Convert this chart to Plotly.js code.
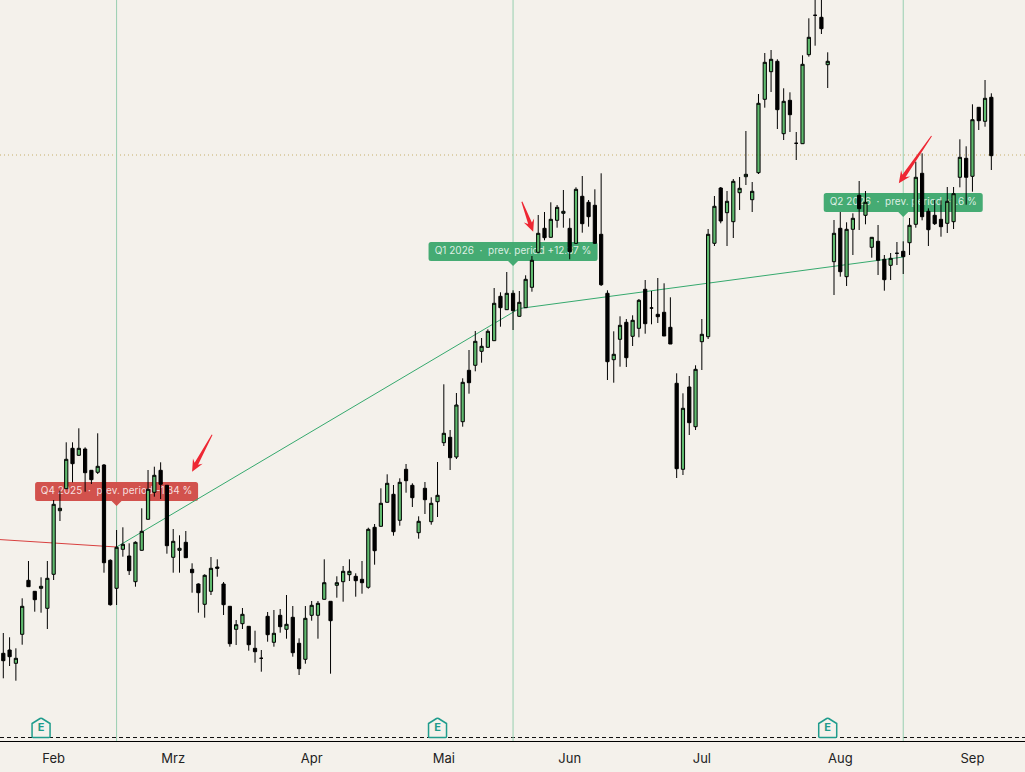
<!DOCTYPE html>
<html>
<head>
<meta charset="utf-8">
<script src="https://cdn.plot.ly/plotly-3.0.1.min.js"></script>
<style>
  html, body { margin: 0; padding: 0; background: #F4F1EB; }
  #chart { width: 1025px; height: 772px; }
</style>
</head>
<body>
<div id="chart"></div>
<script>
// Daily candles, prices are on an arbitrary scale (no price axis is visible).
const open = [87.7,91,77.7,106.7,160.7,149.7,152.7,132.7,166.7,230.3,252.3,292.7,285.7,292,270.7,268.7,276,180.7,152.7,191.7,
  185,159.3,190.7,221.7,248.7,270.7,255.7,183.7,190.7,198.7,171.7,157,136.7,149.7,174,157,134.7,111.7,117.3,114.7,
  92.7,82.7,124.7,98.7,125.7,111.7,123.7,97.7,81.7,125.7,125.7,141.7,139.7,155.7,159.3,166.3,164.7,161.7,153.7,213.7,
  214.7,238.7,246.7,220.7,271.7,255.7,208.3,252.7,219.3,239.3,298.3,303.7,284,319.3,370.7,375.7,389.7,393.7,400.3,444.7,
  431.3,447.7,424.7,433.3,453.7,488.7,512.7,503.7,520.7,527.7,512.7,497.7,544.7,538.7,535.7,506.7,447.7,381.3,401.7,418.7,
  404.7,412.7,451.7,433,426.7,428.7,413.7,357.7,271.7,354,314.3,399.3,404.3,497.7,553,528.3,519.3,548.3,564.3,541.3,
  568.3,641.7,669.3,679.7,607.3,640.7,597.7,597.3,686.3,725.7,723.7,676.3,479.3,512.7,464.3,511.7,545.7,525.7,493.7,499.7,
  481.7,475.7,487.7,489.7,498.3,516.7,567.7,529.7,525.7,521.7,517.7,519.3,563.7,582.7,564.7,633.7,619.7,643.7];
const high = [108,103.7,92.7,142.7,180,150,163.7,180,241,250.3,298.7,298.7,312.7,293.7,271,307.7,277,181.7,211,213.7,
  197.7,199.7,232.7,271,274.3,278.7,255.7,212,205.7,210,177.7,157.7,166.7,184,181.7,159,135,121,133,114.7,
  110.3,91,129,131,132,146,135,102.7,135,140,140,181.7,139.7,164.7,175,181.7,167.7,180,213.3,217,
  252.7,266.7,256,262.7,277,257.7,224.7,259,243.7,279,356.7,311,348,362.7,391,410,403,411.7,453,448.7,
  469,450.7,450,465.7,485,526,529,538.7,536,551,522.7,553.7,565,541,551.7,567.7,450.7,409.7,424.7,422,
  425.7,442,461,450,463,457.7,443.7,367.7,347.7,365,375.7,422,512,545,554,550,562,564,610,559,
  647,688,691,681.7,652.7,648.7,609,685.7,722.7,746,746,688.7,521,529,518.7,527.7,560,550,504,516,
  486,488,499,499.7,523,579.3,587.7,532.7,541,540.7,554,554,601.7,594.7,636.7,634,661,647.7];
const low = [62.7,75,60.3,96.3,154.3,129.3,128.3,112,161,220,252,258.7,285.3,249.3,257,267,168.3,135.3,136,184.3,
  166,154.3,190.3,221.5,244.3,242,187.3,168.3,168.3,183.3,148.3,128.3,123.3,146,164.3,126,94.3,96,112,90.3,
  78.3,69.3,99.3,94.3,108.3,102.3,84.3,66,77.3,120.3,102.3,141.3,67.3,143.3,139.3,160,144.3,147.3,152.3,176.3,
  214.3,238.5,205.3,215.3,248.3,234,202.3,227,216.3,224,295,271,282,314.3,347.3,369.7,378.3,393.3,400,414.3,
  431,411,424,433,449.3,488.5,500.7,503.3,513.3,513.3,481.7,497,508.3,514.3,497,455,361,358.3,374.3,374,
  395,403.7,407.3,416.7,418,405,397,263,266,306,311,371,402,495,517.7,495,503,531,556,529,
  567,633.3,649,612,601,609,581,597,684.3,695.3,707,653,446,464.3,455,486,511,516.7,483.3,466,
  450.3,461,476,467,486,513.3,520.7,495,516,504.3,508,512,553.7,536.3,549.3,611,614.3,571];
const close = [80.3,84.3,82.7,134.7,154.3,141.3,154.7,162.7,236.7,232.7,281.7,277.3,292.7,268.3,261.3,274.7,178.3,136.3,193.7,196.7,
  170.3,198.7,209.7,251.7,265.7,256.7,195.3,199.7,192.7,183.3,168.3,148.3,165.7,172.7,172.7,136.3,97.3,116.3,126.7,96.3,
  89.3,82.7,106.3,107.7,114.3,116.7,88.3,72.3,122.7,135.7,137.7,158.3,120.3,158.3,169.7,169.7,160.3,158.3,211.7,190.3,
  237.7,257.7,209.3,258.7,260.3,243.3,219.7,241.3,237.7,245.7,307.7,283.3,336,358.7,358.3,399.7,394.7,409.7,437.7,433.3,
  447.7,430.3,438.7,461.7,480.7,507.7,503.3,521.7,533.7,529.7,489.3,551.7,517.3,524.3,497.7,456.3,379.3,386.7,415.7,383.3,
  420.7,440.7,417.3,433,424.3,405,397,272.3,332.7,318.3,371.7,406.7,506.7,534.7,520,539.7,559.7,552.7,566.7,549.7,
  637.7,678.7,681.7,631.3,639.7,626.3,597.7,676.7,703.7,725.7,712.3,679.7,507.7,469.3,511.7,522.7,532.3,538.7,503.7,480.7,
  461.3,482.7,487.7,484.3,515.7,563.7,524.3,511.3,517.3,514.3,539.7,547.3,583.7,563.7,621.3,620.3,642.7,585.3];
const days = open.map((_, i) => i);

// Month labels sit on the first trading day of each month.
const monthTicks = [8, 27, 49, 70, 90, 111, 133, 154];
const monthLabels = ["Feb", "Mrz", "Apr", "Mai", "Jun", "Jul", "Aug", "Sep"];

const lossLineX = [-1, 18];
const lossLineY = [201.6, 194];
const gainLineX = [18, 82, 143];
const gainLineY = [194, 432.5, 484];

const quarterDays = [18, 81, 143];
const quarterLabels = [
  "Q4 2025  \u00b7  prev. period -1.34 %",
  "Q1 2026  \u00b7  prev. period +12.37 %",
  "Q2 2026  \u00b7  prev. period +1.6 %",
];
const quarterTipLevels = [235, 475, 524];
const quarterColors = ["#D14C47", "#3FA86E", "#3FA86E"];
const quarterHalfWidths = [81.5, 84.5, 79.5];

const earningsDays = [6, 69, 131];
const lastPriceLevel = 586;
const dashedLevel = 3.5;

const arrowDays = [30, 84.2, 142.3];
const arrowLevels = [269.3, 509.3, 557.7];
const arrowTails = [[20, 37], [-11.3, 30], [32.7, 47.3]];

const BG = "#F4F1EB";
const AXIS_X = [-0.524, 162.35];
const AXIS_Y = [0, 741];

// Quarter badge: rounded box with a small pointer, in pixels relative to the pointer tip.
function badgePath(hw) {
  const r = 2.5, top = 24, bot = 5;
  return `M0,0 L-5,${bot} L${-hw + r},${bot} Q${-hw},${bot} ${-hw},${bot + r} L${-hw},${top - r} Q${-hw},${top} ${-hw + r},${top} ` +
    `L${hw - r},${top} Q${hw},${top} ${hw},${top - r} L${hw},${bot + r} Q${hw},${bot} ${hw - r},${bot} L5,${bot} Z`;
}

// Hand drawn style arrow, thin at the tail and swept back at the head.
function arrowPath([tx, ty]) {
  const len = Math.hypot(tx, ty), ux = tx / len, uy = ty / len, px = uy, py = -ux;
  const at = (d, w) => `${(ux * d + px * w).toFixed(1)},${(uy * d + py * w).toFixed(1)}`;
  return `M0,0 L${at(12, -5.5)} L${at(9, -2)} L${at(len, -0.5)} L${at(len, 0.5)} L${at(9, 2)} L${at(12, 5.5)} Z`;
}

const E_ICON = "M-9,1 Q-9,0 -8,0 L8,0 Q9,0 9,1 L9,14 L1,19 Q0,19.5 -1,19 L-9,14 Z";

const shapes = [
  { type: "line", xref: "paper", x0: 0, x1: 1, yref: "y", y0: lastPriceLevel, y1: lastPriceLevel, layer: "below",
    line: { color: "#C6AE6A", width: 1, dash: "1px,3px" } },
  { type: "line", xref: "paper", x0: 0, x1: 1, yref: "y", y0: dashedLevel, y1: dashedLevel, layer: "below",
    line: { color: "#111111", width: 1, dash: "4px,3px" } },
];
quarterDays.forEach((d) => {
  shapes.push({ type: "line", xref: "x", x0: d, x1: d, yref: "paper", y0: 0, y1: 1, layer: "below",
    line: { color: "#98CFB0", width: 1 } });
});
quarterDays.forEach((d, i) => {
  shapes.push({ type: "path", xref: "x", yref: "y", xsizemode: "pixel", ysizemode: "pixel", xanchor: d,
    yanchor: quarterTipLevels[i], path: badgePath(quarterHalfWidths[i]), layer: "below", opacity: 0.97,
    fillcolor: quarterColors[i], line: { width: 0 } });
});
earningsDays.forEach((d) => {
  shapes.push({ type: "path", xref: "x", yref: "y", xsizemode: "pixel", ysizemode: "pixel", xanchor: d,
    yanchor: dashedLevel, path: E_ICON, layer: "below", fillcolor: BG, line: { color: "#1F9C8C", width: 1.5 } });
});
arrowDays.forEach((d, i) => {
  shapes.push({ type: "path", xref: "x", yref: "y", xsizemode: "pixel", ysizemode: "pixel", xanchor: d,
    yanchor: arrowLevels[i], path: arrowPath(arrowTails[i]), layer: "above",
    fillcolor: "#EE2733", line: { width: 0 } });
});

const traces = [
  { x: lossLineX, y: lossLineY, type: "scatter", mode: "lines", line: { color: "#D8403F", width: 1 }, hoverinfo: "skip" },
  { x: gainLineX, y: gainLineY, type: "scatter", mode: "lines", line: { color: "#36A96E", width: 1 }, hoverinfo: "skip" },
  { x: quarterDays, y: quarterTipLevels.map((v) => v + 14.5), text: quarterLabels, type: "scatter", mode: "text",
    textposition: "middle center", textfont: { family: "Inter", size: 10, color: "rgba(255,255,255,0.82)" }, hoverinfo: "skip" },
  { x: earningsDays, y: earningsDays.map(() => 12.5), text: earningsDays.map(() => "E"), type: "scatter", mode: "text",
    textposition: "middle center", textfont: { family: "Inter", size: 11, color: "#1F9C8C", weight: 700 }, hoverinfo: "skip" },
  {
    x: days, open, high, low, close, type: "candlestick", xaxis: "x2", yaxis: "y2",
    increasing: { line: { color: "#000000", width: 1 }, fillcolor: "#5FBA6E" },
    decreasing: { line: { color: "#000000", width: 1 }, fillcolor: "#000000" },
    whiskerwidth: 0, hoverinfo: "skip",
  },
];

const layout = {
  width: 1025,
  height: 772,
  margin: { l: 0, r: 0, t: 0, b: 31 },
  paper_bgcolor: BG,
  plot_bgcolor: BG,
  showlegend: false,
  boxgap: 0.27,
  boxmode: "overlay",
  shapes,
  xaxis: {
    range: AXIS_X, showgrid: false, zeroline: false, showline: true, linecolor: "#000000", linewidth: 1,
    tickmode: "array", tickvals: monthTicks, ticktext: monthLabels, ticks: "outside", ticklen: 5, tickcolor: "rgba(0,0,0,0)",
    tickfont: { family: "Inter", size: 13, color: "#222222" },
  },
  yaxis: { range: AXIS_Y, visible: false, showgrid: false, zeroline: false },
  xaxis2: { range: AXIS_X, overlaying: "x", visible: false, rangeslider: { visible: false } },
  yaxis2: { range: AXIS_Y, overlaying: "y", visible: false },
};

Plotly.newPlot("chart", traces, layout, { displayModeBar: false, staticPlot: true });
</script>
</body>
</html>
